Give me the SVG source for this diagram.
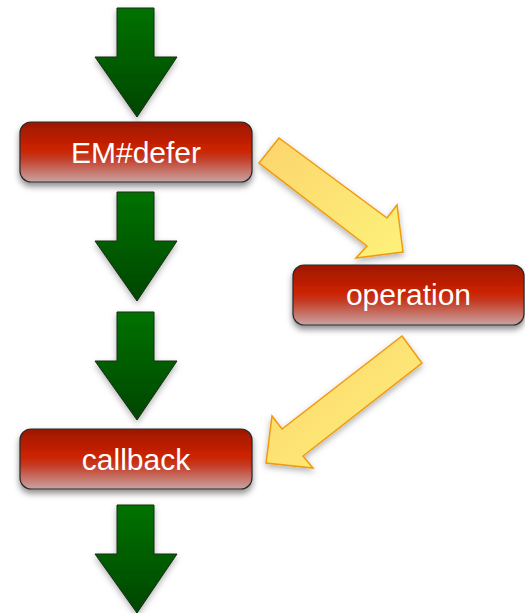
<svg xmlns="http://www.w3.org/2000/svg" width="525" height="613" viewBox="0 0 525 613">
<defs>
<linearGradient id="red" x1="0" y1="0" x2="0" y2="1">
<stop offset="0" stop-color="#9c1700"/>
<stop offset="0.45" stop-color="#cc2200"/>
<stop offset="0.6" stop-color="#c43a22"/>
<stop offset="1" stop-color="#c8a4a4"/>
</linearGradient>
<linearGradient id="green" x1="0" y1="0" x2="0" y2="1">
<stop offset="0" stop-color="#007200"/>
<stop offset="1" stop-color="#004600"/>
</linearGradient>
<linearGradient id="yellow" x1="0" y1="0" x2="1" y2="1">
<stop offset="0" stop-color="#fcd46c"/>
<stop offset="1" stop-color="#fdf27a"/>
</linearGradient>
<filter id="sh" x="-20%" y="-20%" width="140%" height="150%">
<feDropShadow dx="0" dy="4" stdDeviation="3" flood-color="#000" flood-opacity="0.45"/>
</filter>
<filter id="shs" x="-20%" y="-20%" width="140%" height="150%">
<feDropShadow dx="0" dy="3" stdDeviation="3" flood-color="#000" flood-opacity="0.3"/>
</filter>
</defs>
<style>
.box{fill:url(#red);stroke:#2a2a2a;stroke-width:1.2;filter:url(#sh)}
.lbl{font-family:"Liberation Sans",Arial,sans-serif;font-size:30px;fill:#fff;text-anchor:middle}
.ga{fill:url(#green);stroke:#1a2a1a;stroke-width:1;filter:url(#shs)}
.ya{fill:url(#yellow);stroke:#f09a10;stroke-width:1.5;stroke-linejoin:miter;filter:url(#shs)}
</style>
<g id="connectors">
<path class="ga" d="M117,8 L154,8 L154,57 L177,57 L137,117 L95,57 L117,57 Z"/>
<path class="ga" d="M117,192 L154,192 L154,241 L177,241 L137,301 L95,241 L117,241 Z"/>
<path class="ga" d="M117,312 L154,312 L154,361 L177,361 L137,420 L95,361 L117,361 Z"/>
<path class="ga" d="M117,505 L154,505 L154,554 L177,554 L137,613 L95,554 L117,554 Z"/>
<path class="ya" d="M279,138 L387,218 L397,205 L403,252 L356,258 L367,246 L259,163 Z"/>
<path class="ya" d="M402,336 L422,363 L303,456 L313,468 L266,463 L272,416 L282,429 Z"/>
</g>
<g id="node-emdefer">
<rect class="box" x="20" y="122" width="232" height="60" rx="11"/>
<text class="lbl" x="136" y="163">EM#defer</text>
</g>
<g id="node-operation">
<rect class="box" x="293" y="265" width="231" height="60" rx="11"/>
<text class="lbl" x="408.5" y="305">operation</text>
</g>
<g id="node-callback">
<rect class="box" x="20" y="429" width="232" height="60" rx="11"/>
<text class="lbl" x="136" y="470">callback</text>
</g>
</svg>
